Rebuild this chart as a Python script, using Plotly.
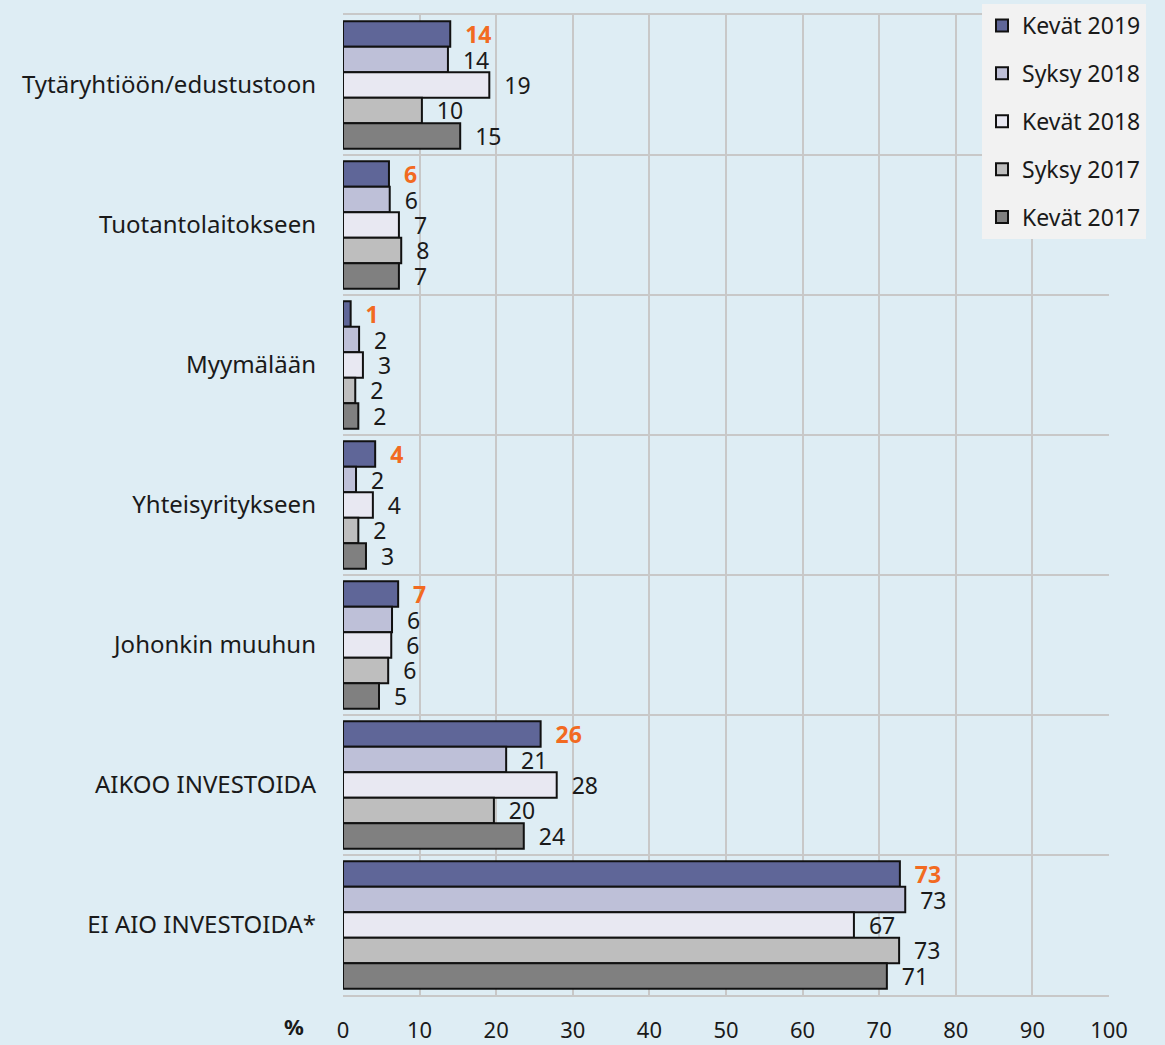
import plotly.graph_objects as go

categories = ["Tytäryhtiöön/edustustoon", "Tuotantolaitokseen", "Myymälään",
              "Yhteisyritykseen", "Johonkin muuhun", "AIKOO INVESTOIDA", "EI AIO INVESTOIDA*"]

series_names = ["Kevät 2019", "Syksy 2018", "Kevät 2018", "Syksy 2017", "Kevät 2017"]

kevat_2019 = [14.0, 6.0, 1.0, 4.2, 7.2, 25.8, 72.7]
syksy_2018 = [13.7, 6.1, 2.1, 1.7, 6.4, 21.3, 73.4]
kevat_2018 = [19.1, 7.3, 2.6, 3.9, 6.3, 27.9, 66.7]
syksy_2017 = [10.3, 7.6, 1.6, 2.0, 5.9, 19.7, 72.6]
kevat_2017 = [15.3, 7.3, 2.0, 3.0, 4.7, 23.6, 71.0]

series_values = [kevat_2019, syksy_2018, kevat_2018, syksy_2017, kevat_2017]
colors = ["#5f6698", "#bec0d8", "#e8e8f2", "#bebebe", "#808080"]

x_ticks = [0, 10, 20, 30, 40, 50, 60, 70, 80, 90, 100]

FONT = "Noto Sans"
NB = "\u00a0"
TXT = "#1a1a1a"

fig = go.Figure()
for i, (name, vals, col) in enumerate(zip(series_names, series_values, colors)):
    first = i == 0
    fig.add_trace(go.Bar(
        name=name,
        y=categories,
        x=vals,
        orientation="h",
        marker=dict(color=col, line=dict(color="#111111", width=2)),
        text=[f"{NB*2}{round(v)}" for v in vals],
        textposition="outside",
        constraintext="none",
        cliponaxis=False,
        textfont=dict(family=FONT, size=23,
                      color="#f26a21" if first else TXT,
                      weight="bold" if first else "normal"),
        legendgroup=name,
        hoverinfo="x+name",
    ))

fig.update_layout(
    width=1165, height=1045,
    barmode="group",
    bargap=0.09,
    bargroupgap=0,
    paper_bgcolor="#deedf4",
    plot_bgcolor="#deedf4",
    font=dict(family=FONT, size=22, color=TXT),
    margin=dict(l=343, r=56, t=15, b=50, autoexpand=False),
    legend=dict(
        xref="container", yref="container",
        x=982 / 1165, y=1.0 - 4 / 1045, xanchor="left", yanchor="top",
        bgcolor="#f2f2f2",
        font=dict(family=FONT, size=23, color=TXT),
        traceorder="grouped",
        tracegroupgap=15,
        itemwidth=30,
    ),
    xaxis=dict(
        range=[0, 100],
        tickvals=x_ticks,
        ticktext=[str(t) for t in x_ticks],
        showgrid=True, gridcolor="#c8c8c8", gridwidth=1.5,
        zeroline=False,
        showline=True, linecolor="#c8c8c8", linewidth=1.5, mirror=True,
        ticks="", ticklabelstandoff=15,
        tickfont=dict(family=FONT, size=22, color=TXT),
    ),
    yaxis=dict(
        categoryorder="array", categoryarray=categories,
        autorange="reversed",
        tickson="boundaries",
        showgrid=True, gridcolor="#c8c8c8", gridwidth=1.5,
        showline=False,
        ticks="", ticklabelstandoff=26,
        tickfont=dict(family=FONT, size=24, color=TXT),
    ),
    annotations=[dict(
        text="<b>%</b>", xref="paper", yref="paper", x=0, y=0,
        xanchor="right", yanchor="middle", xshift=-37, yshift=-31,
        showarrow=False, font=dict(family=FONT, size=22, color=TXT),
    )],
)

fig.write_html("out.html", config={"displayModeBar": False},
               post_script="document.body.style.margin='0';")
